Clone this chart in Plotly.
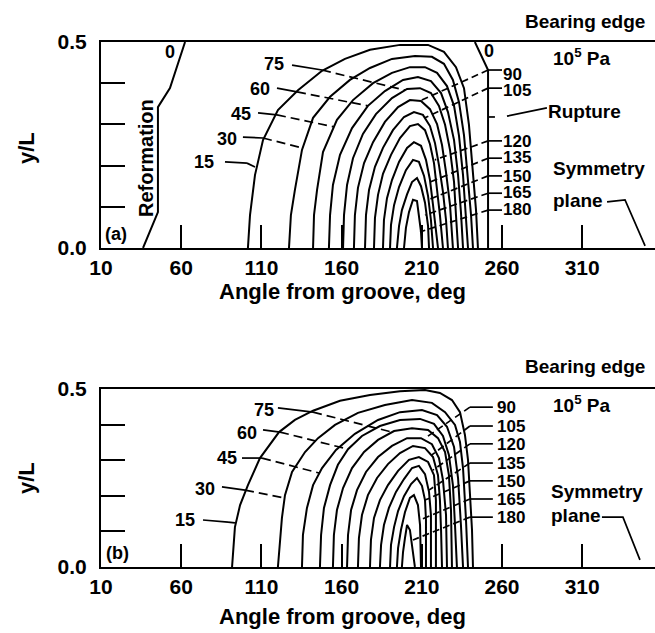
import plotly.graph_objects as go

FONT = "Liberation Sans, Arial, Helvetica, sans-serif"

# ---------------- data (deg from groove, y/L) ----------------
levels = [15, 30, 45, 60, 75, 90, 105, 120, 135, 150, 165, 180]
x_tickvals = [10, 60, 110, 160, 210, 260, 310]
x_ticktext = ["10", "60", "110", "160", "210", "260", "310"]
y_tickvals = [0, 0.5]
y_ticktext = ["0.0", "0.5"]
y_minor_ticks = [0.1, 0.2, 0.3, 0.4]

# panel (a) : film reformation / rupture boundaries (p = 0)
a0_ref_deg = [36.2, 45.5, 45.5, 53.0, 62.4]
a0_ref_yl = [0, 0.087, 0.342, 0.388, 0.5]
a0_rup_deg = [243.1, 251.3, 251.3]
a0_rup_yl = [0.5, 0.432, 0]

# panel (a) isobars
a15_deg = [101.6, 102.9, 106.0, 111.0, 120.3, 132.8, 147.8, 162.1, 177.7, 196.4, 213.9, 223.8, 231.3, 236.3, 239.4, 241.9, 243.8, 245.0]
a15_yl = [0, .080, .177, .262, .335, .383, .430, .459, .481, .493, .493, .476, .439, .388, .299, .189, .092, 0]
a30_deg = [127.2, 128.4, 130.9, 135.3, 142.2, 152.8, 165.2, 177.7, 191.4, 205.7, 216.3, 223.8, 229.4, 233.2, 236.3, 238.8, 240.7, 241.9]
a30_yl = [0, .080, .141, .238, .316, .367, .408, .437, .459, .466, .464, .447, .408, .354, .274, .165, .080, 0]
a45_deg = [142.2, 142.8, 144.7, 148.4, 157.1, 167.1, 179.6, 191.4, 202.6, 212.0, 219.5, 225.7, 230.1, 233.2, 235.7, 237.5, 238.8]
a45_yl = [0, .080, .141, .233, .311, .359, .400, .425, .439, .439, .425, .393, .345, .272, .177, .087, 0]
a60_deg = [152.1, 152.8, 154.6, 159.0, 166.5, 176.4, 187.0, 198.3, 207.6, 215.7, 222.0, 226.3, 230.1, 232.6, 234.4, 235.7]
a60_yl = [0, .080, .153, .226, .291, .345, .381, .408, .415, .405, .376, .330, .262, .177, .087, 0]
a75_deg = [160.9, 161.5, 163.4, 167.1, 173.3, 181.4, 191.4, 200.8, 208.9, 215.7, 220.7, 224.5, 227.6, 230.1, 231.3, 232.6]
a75_yl = [0, .080, .153, .218, .277, .325, .364, .386, .388, .376, .345, .299, .238, .160, .080, 0]
a90_deg = [167.7, 168.3, 170.2, 174.0, 179.6, 187.0, 195.2, 202.6, 209.5, 215.1, 219.5, 222.6, 225.1, 227.6, 229.4]
a90_yl = [0, .080, .146, .206, .257, .306, .342, .359, .357, .337, .301, .250, .184, .104, 0]
a105_deg = [174.6, 175.2, 177.1, 180.8, 185.8, 192.0, 198.9, 205.1, 210.7, 215.1, 218.2, 220.7, 223.2, 225.1, 226.3]
a105_yl = [0, .080, .141, .197, .243, .286, .318, .330, .323, .296, .255, .201, .136, .068, 0]
a120_deg = [180.2, 180.8, 182.7, 185.8, 190.8, 196.4, 202.6, 207.6, 212.0, 215.1, 217.6, 219.5, 221.3, 223.2]
a120_yl = [0, .073, .129, .180, .226, .267, .296, .301, .286, .252, .206, .148, .080, 0]
a135_deg = [185.8, 186.4, 188.3, 191.4, 195.8, 200.8, 205.1, 209.5, 212.6, 215.1, 217.0, 218.8, 220.1]
a135_yl = [0, .068, .121, .165, .209, .243, .257, .248, .214, .165, .104, .049, 0]
a150_deg = [190.2, 190.8, 192.7, 195.8, 200.1, 204.5, 208.2, 211.4, 213.9, 215.7, 217.0]
a150_yl = [0, .056, .104, .148, .189, .214, .209, .175, .126, .068, 0]
a165_deg = [194.5, 195.8, 197.6, 200.8, 203.9, 207.0, 209.5, 212.0, 213.9, 214.5]
a165_yl = [0, .053, .092, .130, .160, .170, .150, .110, .053, 0]
a180_deg = [198.9, 200.1, 202.0, 204.5, 207.0, 208.2, 209.5, 210.1]
a180_yl = [0, .049, .087, .117, .114, .080, .039, 0]

# panel (b) isobars
b15_deg = [91.7, 93.5, 96.7, 101.6, 109.1, 121.0, 130.9, 142.2, 159.0, 177.7, 196.4, 212.0, 221.3, 228.8, 233.8, 236.9, 238.8, 240.0, 241.3, 241.9]
b15_yl = [0, .112, .174, .230, .306, .379, .413, .439, .467, .483, .494, .497, .489, .469, .435, .371, .301, .216, .104, 0]
b30_deg = [120.3, 121.6, 122.8, 124.7, 129.1, 137.2, 145.3, 155.9, 170.2, 187.0, 203.9, 216.3, 224.5, 230.7, 233.8, 235.7, 237.5, 238.8]
b30_yl = [0, .076, .138, .202, .267, .323, .362, .399, .433, .455, .469, .461, .435, .399, .351, .278, .138, 0]
b45_deg = [135.3, 135.9, 138.4, 142.2, 147.8, 156.5, 168.3, 182.7, 196.4, 210.1, 219.5, 225.7, 230.1, 232.6, 234.4, 235.7]
b45_yl = [0, .090, .166, .230, .278, .329, .374, .413, .435, .441, .427, .394, .337, .250, .118, 0]
b60_deg = [146.5, 147.2, 149.0, 152.8, 157.7, 164.0, 172.7, 183.9, 196.4, 208.9, 217.6, 223.2, 226.9, 229.4, 230.7, 231.9]
b60_yl = [0, .090, .166, .230, .287, .331, .368, .396, .413, .416, .402, .368, .315, .230, .118, 0]
b75_deg = [154.6, 155.2, 157.1, 160.9, 166.5, 174.0, 182.7, 192.7, 203.9, 213.9, 220.1, 224.5, 226.9, 228.2, 228.8]
b75_yl = [0, .090, .160, .222, .278, .323, .357, .382, .390, .385, .362, .323, .258, .160, 0]
b90_deg = [163.4, 164.0, 165.9, 169.6, 175.2, 182.7, 191.4, 200.8, 209.5, 216.3, 220.7, 223.2, 225.1, 225.7]
b90_yl = [0, .090, .160, .216, .267, .309, .340, .362, .362, .345, .306, .244, .146, 0]
b105_deg = [170.2, 170.8, 172.7, 176.4, 182.1, 188.9, 196.4, 204.5, 212.0, 217.0, 220.1, 221.3, 222.0, 222.6]
b105_yl = [0, .081, .146, .202, .250, .289, .320, .340, .334, .309, .258, .188, .104, 0]
b120_deg = [177.7, 178.3, 180.2, 183.9, 188.9, 195.2, 202.0, 208.2, 213.9, 217.6, 218.8, 218.8, 218.8]
b120_yl = [0, .076, .138, .188, .230, .270, .301, .309, .295, .258, .188, .090, 0]
b135_deg = [183.9, 184.6, 186.4, 189.5, 193.9, 198.9, 203.9, 208.2, 212.0, 214.5, 215.7, 215.7]
b135_yl = [0, .062, .118, .166, .211, .247, .278, .284, .261, .211, .146, 0]
b150_deg = [190.2, 190.8, 192.7, 195.2, 198.9, 203.3, 207.0, 210.1, 212.0, 212.6, 212.6]
b150_yl = [0, .062, .112, .157, .199, .233, .250, .228, .188, .132, 0]
b165_deg = [194.5, 195.2, 197.0, 199.5, 202.6, 205.1, 207.6, 208.9, 209.5]
b165_yl = [0, .053, .104, .154, .194, .202, .174, .118, 0]
b180_deg = [197.6, 198.3, 199.5, 200.8, 202.6, 203.9, 205.7]
b180_yl = [0, .042, .081, .118, .104, .062, 0]

# label leader lines (left labels: 75, 60, 45, 30, 15)
left_labels = ["75", "60", "45", "30", "15"]
a_ll_start_deg = [129.1, 119.7, 107.9, 98.5, 87.3]
a_ll_start_yl = [.444, .388, .328, .269, .209]
a_ll_cross_deg = [147.8, 132.2, 119.7, 111.0, 101.0]
a_ll_cross_yl = [.432, .379, .323, .267, .206]
a_ll_end_deg = [199.5, 176.4, 155.3, 135.3, 107.3]
a_ll_end_yl = [.383, .345, .294, .243, .194]
b_ll_start_deg = [120.3, 111.0, 97.9, 85.4, 73.6]
b_ll_start_yl = [.447, .385, .306, .225, .132]
b_ll_cross_deg = [142.2, 121.6, 110.4, 99.8, 89.2]
b_ll_cross_yl = [.435, .379, .306, .216, .126]
b_ll_end_deg = [191.4, 164.0, 145.9, 124.1, 93.5]
b_ll_end_yl = [.379, .331, .264, .194, .124]

# right labels: 90 ... 180
right_labels = ["90", "105", "120", "135", "150", "165", "180"]
a_rl_yl = [.432, .388, .260, .218, .175, .133, .092]
a_rl_h_deg = [251.3, 260.0]
a_rl_end_deg = [210.0, 212.0, 218.2, 215.1, 213.9, 212.0, 208.9]
a_rl_end_yl = [.359, .316, .214, .160, .117, .080, .039]
b_rl_yl = [.449, .396, .346, .292, .242, .191, .140]
b_rl_h_deg = [240.0, 254.3]
b_rl_end_deg = [212.0, 216.3, 216.9, 214.5, 212.0, 208.9, 204.5]
b_rl_end_yl = [.362, .315, .272, .216, .188, .132, .076]

a_rupture_deg = [263.1, 288.0]
a_rupture_yl = [.320, .340]
a_rupture_tick_deg = [251.3, 255.6]
a_rupture_tick_yl = [.318, .318]
a_sym_deg = [325.5, 336.7, 349.2]
a_sym_yl = [.112, .117, .005]
b_sym_deg = [322.3, 335.4, 346.0]
b_sym_yl = [.140, .140, .020]

# ---------------- figure ----------------
W, H = 655, 633
ML, MT, MB = 101, 42, 66
PW, PH = W - ML, H - MT - MB
XRANGE = [10, 10 + PW / 1.604]

fig = go.Figure()
LW = 2


def line(xs, ys, ax, dash="solid", width=LW):
    xa, ya = ("x", "y") if ax == "a" else ("x2", "y2")
    fig.add_trace(go.Scatter(x=xs, y=ys, mode="lines", xaxis=xa, yaxis=ya,
                             line=dict(color="black", width=width, dash=dash),
                             hoverinfo="skip", showlegend=False))


a_curves = [(a15_deg, a15_yl), (a30_deg, a30_yl), (a45_deg, a45_yl), (a60_deg, a60_yl),
            (a75_deg, a75_yl), (a90_deg, a90_yl), (a105_deg, a105_yl), (a120_deg, a120_yl),
            (a135_deg, a135_yl), (a150_deg, a150_yl), (a165_deg, a165_yl), (a180_deg, a180_yl)]
b_curves = [(b15_deg, b15_yl), (b30_deg, b30_yl), (b45_deg, b45_yl), (b60_deg, b60_yl),
            (b75_deg, b75_yl), (b90_deg, b90_yl), (b105_deg, b105_yl), (b120_deg, b120_yl),
            (b135_deg, b135_yl), (b150_deg, b150_yl), (b165_deg, b165_yl), (b180_deg, b180_yl)]
for xs, ys in a_curves:
    line(xs, ys, "a")
for xs, ys in b_curves:
    line(xs, ys, "b")
line(a0_ref_deg, a0_ref_yl, "a")
line(a0_rup_deg, a0_rup_yl, "a")

DASH = "9px,5px"
for i in range(5):
    for ax, sd, sy, cd, cy, ed, ey in (
        ("a", a_ll_start_deg, a_ll_start_yl, a_ll_cross_deg, a_ll_cross_yl, a_ll_end_deg, a_ll_end_yl),
        ("b", b_ll_start_deg, b_ll_start_yl, b_ll_cross_deg, b_ll_cross_yl, b_ll_end_deg, b_ll_end_yl)):
        line([sd[i], cd[i]], [sy[i], cy[i]], ax, width=1.7)
        line([cd[i], ed[i]], [cy[i], ey[i]], ax, dash=DASH, width=1.7)

for i in range(7):
    line(a_rl_h_deg, [a_rl_yl[i]] * 2, "a", width=1.7)
    line([a_rl_h_deg[0], a_rl_end_deg[i]], [a_rl_yl[i], a_rl_end_yl[i]], "a", dash="7px,4px", width=1.7)
    line(b_rl_h_deg, [b_rl_yl[i]] * 2, "b", width=1.7)
    line([b_rl_h_deg[0], b_rl_end_deg[i]], [b_rl_yl[i], b_rl_end_yl[i]], "b", dash="7px,4px", width=1.7)

line(a_rupture_deg, a_rupture_yl, "a", width=1.7)
line(a_rupture_tick_deg, a_rupture_tick_yl, "a", width=1.7)
line(a_sym_deg, a_sym_yl, "a", width=1.7)
line(b_sym_deg, b_sym_yl, "b", width=1.7)


def px2paper(px, py):
    return (px - ML) / PW, (MT + PH - py) / PH


annotations = []


def ann(text, px, py, xanchor="center", size=19, angle=0):
    x, y = px2paper(px, py)
    annotations.append(dict(text=text, x=x, y=y, xref="paper", yref="paper",
                            xanchor=xanchor, yanchor="middle", showarrow=False,
                            textangle=angle, borderpad=0,
                            font=dict(family=FONT, size=size, color="black", weight="bold")))


# panel (a) texts
ann("0", 170, 52, size=18)
ann("0", 489, 51, size=18)
ann("Reformation", 146, 158, size=20, angle=-90)
ann("(a)", 116, 234, size=18)
for lab, rx, cy in zip(left_labels, [285, 271, 252, 238, 215], [64, 89, 114, 139, 162]):
    ann(lab, rx, cy, xanchor="right", size=18)
for lab, cy in zip(right_labels, [74, 90, 141, 158, 176, 192, 210]):
    ann(lab, 502, cy, xanchor="left", size=17)
ann("Rupture", 547, 112, xanchor="left", size=19)
ann("Bearing edge", 646, 22, xanchor="right", size=19)
ann("10<sup>5</sup> Pa", 552, 57, xanchor="left", size=19)
ann("Symmetry", 552, 168, xanchor="left", size=19)
ann("plane", 552, 201, xanchor="left", size=19)
ann("y/L", 26, 148, size=22, angle=-90)
ann("Angle from groove, deg", 342, 291, size=22)

# panel (b) texts
ann("(b)", 117, 553, size=18)
for lab, rx, cy in zip(left_labels, [275, 258, 238, 216, 196], [410, 433, 458, 489, 520]):
    ann(lab, rx, cy, xanchor="right", size=18)
for lab, cy in zip(right_labels, [407, 426, 444, 463, 481, 499, 517]):
    ann(lab, 496, cy, xanchor="left", size=17)
ann("Bearing edge", 646, 366, xanchor="right", size=19)
ann("10<sup>5</sup> Pa", 552, 404, xanchor="left", size=19)
ann("Symmetry", 550, 491, xanchor="left", size=19)
ann("plane", 550, 515, xanchor="left", size=19)
ann("y/L", 26, 478, size=22, angle=-90)
ann("Angle from groove, deg", 342, 616, size=22)

TICKFONT = dict(family=FONT, size=21, color="black", weight="bold")
xa_common = dict(range=XRANGE, tickvals=x_tickvals, ticktext=x_ticktext,
                 ticks="inside", ticklen=23, tickwidth=2, tickcolor="black",
                 showline=True, linecolor="black", linewidth=2, mirror=True,
                 showgrid=False, zeroline=False, tickfont=TICKFONT)
ya_common = dict(range=[0, 0.5], tickvals=y_tickvals, ticktext=y_ticktext,
                 ticks="inside", ticklen=24, tickwidth=2, tickcolor="black",
                 minor=dict(tickvals=y_minor_ticks, ticks="inside", ticklen=24,
                            tickwidth=2, tickcolor="black", showgrid=False),
                 showline=True, linecolor="black", linewidth=2, mirror=False,
                 showgrid=False, zeroline=False, tickfont=TICKFONT,
                 ticklabelstandoff=8)

ya_dom = [(MT + PH - 248) / PH, 1.0]
yb_dom = [0.0, (MT + PH - 389) / PH]

fig.update_layout(
    width=W, height=H,
    margin=dict(l=ML, r=0, t=MT, b=MB, pad=0),
    paper_bgcolor="white", plot_bgcolor="white",
    showlegend=False,
    xaxis=dict(domain=[0, 1], anchor="y", **xa_common),
    yaxis=dict(domain=ya_dom, anchor="x", **ya_common),
    xaxis2=dict(domain=[0, 1], anchor="y2", **xa_common),
    yaxis2=dict(domain=yb_dom, anchor="x2", **ya_common),
    annotations=annotations,
)

fig.write_html("out.html")
